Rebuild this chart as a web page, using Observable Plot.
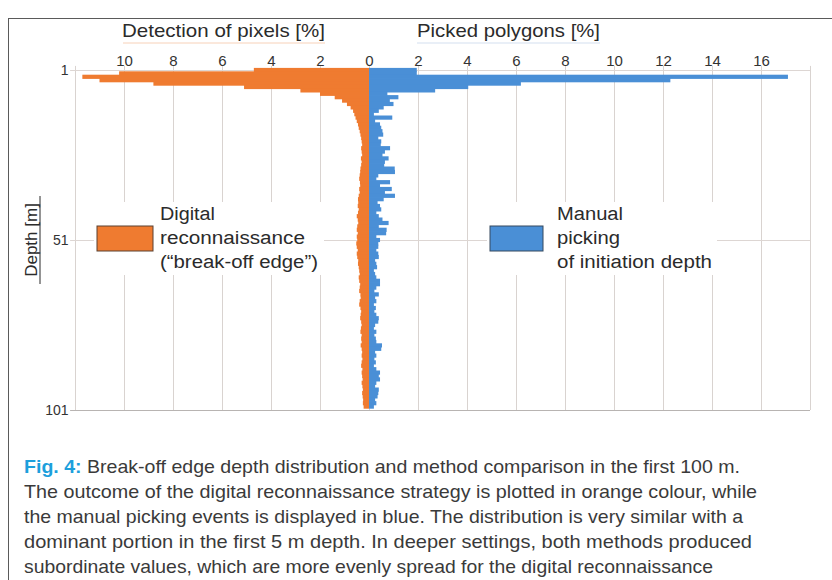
<!DOCTYPE html>
<html>
<head>
<meta charset="utf-8">
<script src="https://cdn.jsdelivr.net/npm/d3@7"></script>
<script src="https://cdn.jsdelivr.net/npm/@observablehq/plot@0.6"></script>
<style>
  html, body { margin: 0; padding: 0; background: #fff; }
  #wrap { position: relative; width: 832px; height: 580px; overflow: hidden; background: #fff; }
  #frame { position: absolute; left: 8px; top: 18px; width: 900px; height: 700px; border: 1.5px solid #5a5a5a; box-sizing: border-box; }
  #chart { position: absolute; left: 0; top: 0; }
  #overlay { position: absolute; left: 0; top: 0; }
</style>
</head>
<body>
<div id="wrap">
  <div id="frame"></div>
  <div id="chart"></div>
  <svg id="overlay" width="832" height="580"></svg>
</div>
<script>
// ---- data ----
const depths = d3.range(1, 101); // 1 .. 100 m
const detectionPixels = [
  4.7, 10.2, 11.7, 11.0, 8.8, 5.1, 2.8, 2.0, 1.4, 1.1,
  0.9, 0.75, 0.65, 0.6, 0.55, 0.5, 0.45, 0.42, 0.38, 0.35,
  0.32, 0.3, 0.28, 0.32, 0.3, 0.28, 0.33, 0.3, 0.32, 0.35,
  0.36, 0.38, 0.4, 0.37, 0.36, 0.4, 0.38, 0.42, 0.45, 0.44,
  0.46, 0.42, 0.45, 0.5, 0.46, 0.44, 0.48, 0.5, 0.46, 0.5,
  0.48, 0.52, 0.5, 0.46, 0.5, 0.48, 0.44, 0.45, 0.42, 0.4,
  0.38, 0.42, 0.4, 0.36, 0.38, 0.4, 0.35, 0.34, 0.38, 0.4,
  0.35, 0.32, 0.34, 0.36, 0.32, 0.3, 0.33, 0.35, 0.3, 0.32,
  0.3, 0.34, 0.3, 0.28, 0.3, 0.27, 0.3, 0.32, 0.27, 0.3,
  0.28, 0.26, 0.3, 0.27, 0.25, 0.28, 0.26, 0.24, 0.25, 0.22
];
const pickedPolygons = [
  1.95, 1.95, 17.1, 12.3, 6.2, 4.05, 2.7, 0.75, 1.2, 0.85,
  1.0, 0.6, 0.4, 0.2, 0.95, 0.25, 0.45, 0.5, 0.55, 0.58,
  0.38, 0.5, 0.48, 0.86, 0.65, 0.55, 0.8, 0.65, 0.62, 1.05,
  1.06, 0.38, 0.3, 0.86, 0.45, 0.93, 0.65, 1.06, 0.6, 0.35,
  0.45, 0.5, 0.3, 0.4, 0.55, 0.8, 0.4, 0.72, 0.7, 0.3,
  0.45, 0.38, 0.38, 0.3, 0.38, 0.4, 0.25, 0.3, 0.33, 0.2,
  0.25, 0.3, 0.45, 0.45, 0.3, 0.22, 0.4, 0.25, 0.3, 0.2,
  0.28, 0.22, 0.3, 0.4, 0.38, 0.25, 0.2, 0.3, 0.22, 0.28,
  0.3, 0.53, 0.5, 0.25, 0.3, 0.22, 0.28, 0.2, 0.3, 0.45,
  0.4, 0.45, 0.3, 0.25, 0.4, 0.38, 0.35, 0.25, 0.3, 0.2
];
const xTicks = [-10, -8, -6, -4, -2, 0, 2, 4, 6, 8, 10, 12, 14, 16];
const xGrid = [-12, -10, -8, -6, -4, -2, 0, 2, 4, 6, 8, 10, 12, 14, 16, 18];
const depthTicks = [1, 51, 101];
const leftTitle = "Detection of pixels [%]";
const rightTitle = "Picked polygons [%]";
const depthTitle = "Depth [m]";
const legendOrange = ["Digital", "reconnaissance", "(\u201Cbreak-off edge\u201D)"];
const legendBlue = ["Manual", "picking", "of initiation depth"];
const captionLabel = "Fig. 4:";
const captionLines = [
  " Break-off edge depth distribution and method comparison in the first 100 m.",
  "The outcome of the digital reconnaissance strategy is plotted in orange colour, while",
  "the manual picking events is displayed in blue. The distribution is very similar with a",
  "dominant portion in the first 5 m depth. In deeper settings, both methods produced",
  "subordinate values, which are more evenly spread for the digital reconnaissance"
];
const ORANGE = "#ef7b30";
const BLUE = "#4a8fd6";

const orangeRows = depths.map((d, i) => ({depth: d, value: -detectionPixels[i]}));
const blueRows = depths.map((d, i) => ({depth: d, value: pickedPolygons[i]}));

const plot = Plot.plot({
  width: 832,
  height: 430,
  marginTop: 70,
  marginBottom: 20,
  marginLeft: 75,
  marginRight: 22,
  style: {background: "transparent", fontFamily: "'Liberation Sans', Arial, sans-serif", color: "#333"},
  x: {domain: [-12, 18]},
  y: {domain: [1, 101], reverse: true},
  marks: [
    Plot.ruleX(xGrid, {y1: -0.2, y2: 101, stroke: "#d9d3d0", strokeWidth: 1}),
    Plot.ruleY(depthTicks, {x1: -12.2, x2: 18, stroke: d => d === 101 ? "#b8b4b2" : "#ddd6d3", strokeWidth: 1}),
    Plot.rectX(orangeRows, {x1: 0, x2: "value", y1: d => d.depth - 0.5, y2: d => d.depth + 0.5, fill: ORANGE, insetTop: -0.4, insetBottom: -0.4}),
    Plot.rectX(blueRows, {x1: 0, x2: "value", y1: d => d.depth - 0.5, y2: d => d.depth + 0.5, fill: BLUE, insetTop: -0.4, insetBottom: -0.4}),
    Plot.axisX({anchor: "top", ticks: xTicks, tickFormat: d => Math.abs(d), tickSize: 0, tickPadding: 5, fontSize: 15, label: null}),
    Plot.axisY({anchor: "left", ticks: depthTicks, tickFormat: d => d, tickSize: 0, tickPadding: 7, fontSize: 14, label: null})
  ]
});
document.getElementById("chart").appendChild(plot);

// ---- overlay texts: titles, legend, caption ----
const svg = d3.select("#overlay");
const FONT = "'Liberation Sans', Arial, sans-serif";
const NARROW = "'Liberation Sans Narrow', 'Liberation Sans', Arial, sans-serif";

function fitText(txt, x, y, len, size, fill, family, anchor) {
  const t = svg.append("text").attr("x", x).attr("y", y).attr("font-size", size)
    .attr("font-family", family || FONT).attr("fill", fill || "#333")
    .attr("dominant-baseline", "central").text(txt);
  if (len) t.attr("textLength", len).attr("lengthAdjust", "spacingAndGlyphs");
  if (anchor) t.attr("text-anchor", anchor);
  return t;
}

// column titles with faint colored underline
fitText(leftTitle, 122, 30, 203, 19, "#2b2b2b", NARROW);
fitText(rightTitle, 417, 30, 183, 19, "#2b2b2b", NARROW);
svg.append("line").attr("x1", 123).attr("x2", 325).attr("y1", 43).attr("y2", 43).attr("stroke", "#f3b38a").attr("stroke-width", 1).attr("opacity", 0.6);
svg.append("line").attr("x1", 417).attr("x2", 600).attr("y1", 43).attr("y2", 43).attr("stroke", "#b9cde6").attr("stroke-width", 1).attr("opacity", 0.6);

// depth title (rotated, underlined)
const dt = svg.append("g").attr("transform", "translate(31,240) rotate(-90)");
dt.append("text").attr("text-anchor", "middle").attr("dominant-baseline", "central")
  .attr("font-size", 17).attr("font-family", NARROW).attr("fill", "#2b2b2b").text(depthTitle);
svg.append("line").attr("x1", 40).attr("x2", 40).attr("y1", 196).attr("y2", 284).attr("stroke", "#2b2b2b").attr("stroke-width", 1);

// legend (white backing boxes hide the grid behind)
svg.append("rect").attr("x", 94).attr("y", 202).attr("width", 230).attr("height", 73).attr("fill", "#fff");
svg.append("rect").attr("x", 487).attr("y", 202).attr("width", 230).attr("height", 73).attr("fill", "#fff");
svg.append("rect").attr("x", 97).attr("y", 226).attr("width", 56).attr("height", 25).attr("fill", ORANGE).attr("stroke", "#5a4030").attr("stroke-width", 1);
svg.append("rect").attr("x", 490).attr("y", 226).attr("width", 53).attr("height", 25).attr("fill", BLUE).attr("stroke", "#34495e").attr("stroke-width", 1);
const legLensO = [55, 145, 158];
const legLensB = [66, 63, 155];
legendOrange.forEach((t, i) => fitText(t, 160, 214 + 24 * i, legLensO[i], 18, "#2b2b2b", FONT));
legendBlue.forEach((t, i) => fitText(t, 557, 214 + 24 * i, legLensB[i], 18, "#2b2b2b", FONT));

// caption
const capLens = [716, 733, 719, 728, 689];
const capY = [466, 491, 516, 541, 566];
const c0 = svg.append("text").attr("x", 24).attr("y", capY[0]).attr("dominant-baseline", "central")
  .attr("font-size", 19).attr("font-family", NARROW).attr("fill", "#3a3a3a")
  .attr("textLength", capLens[0]).attr("lengthAdjust", "spacingAndGlyphs");
c0.append("tspan").attr("fill", "#1d9fdc").attr("font-weight", "bold").text(captionLabel);
c0.append("tspan").text(captionLines[0]);
captionLines.slice(1).forEach((line, i) => {
  svg.append("text").attr("x", 24).attr("y", capY[i + 1]).attr("dominant-baseline", "central")
    .attr("font-size", 19).attr("font-family", NARROW).attr("fill", "#3a3a3a")
    .attr("textLength", capLens[i + 1]).attr("lengthAdjust", "spacingAndGlyphs").text(line);
});
</script>
</body>
</html>
